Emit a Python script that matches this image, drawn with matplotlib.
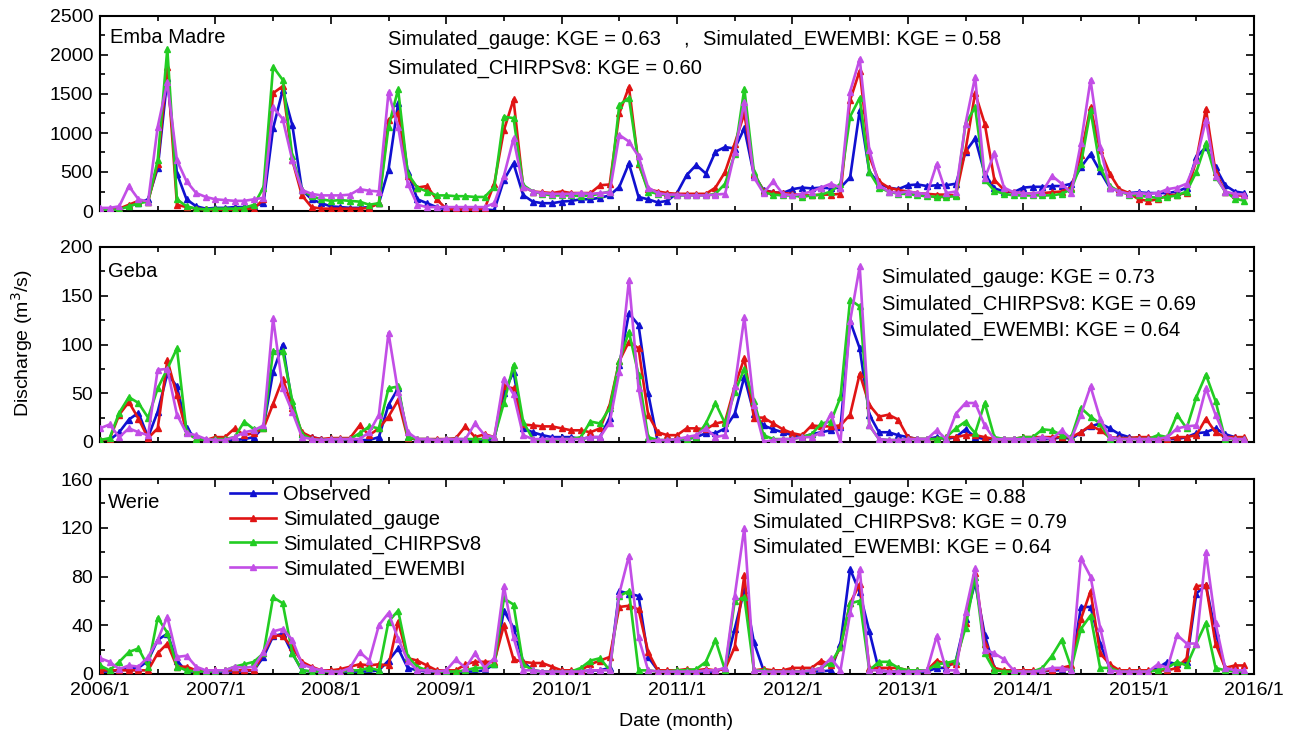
import numpy as np
import matplotlib
matplotlib.use("Agg")
import matplotlib.pyplot as plt
from matplotlib.ticker import MultipleLocator

plt.rcParams['font.family'] = ['Liberation Sans', 'DejaVu Sans']

# ---------------- data ----------------
year_labels = ["2006/1", "2007/1", "2008/1", "2009/1", "2010/1", "2011/1",
               "2012/1", "2013/1", "2014/1", "2015/1", "2016/1"]
series_names = ["Observed", "Simulated_gauge", "Simulated_CHIRPSv8", "Simulated_EWEMBI"]
stations = ["Emba Madre", "Geba", "Werie"]

# Emba Madre (monthly, 2006/1 - 2015/12)
em_obs = [20, 20, 30, 60, 100, 150, 550, 1700, 480, 150, 60, 30,
          40, 40, 50, 50, 60, 100, 1060, 1550, 1100, 270, 150, 100,
          60, 50, 40, 40, 50, 100, 530, 1380, 500, 150, 100, 50,
          20, 20, 20, 20, 20, 10, 400, 610, 205, 120, 100, 100,
          120, 130, 150, 150, 170, 200, 310, 610, 180, 150, 110, 130,
          230, 460, 590, 480, 760, 820, 800, 1060, 460, 270, 240, 230,
          280, 300, 290, 300, 290, 300, 430, 1290, 505, 350, 300, 280,
          330, 340, 320, 330, 330, 350, 760, 930, 480, 290, 250, 240,
          300, 310, 310, 320, 320, 350, 560, 730, 510, 300, 250, 230,
          240, 230, 230, 230, 250, 300, 690, 820, 560, 330, 250, 230]
em_gauge = [20, 20, 30, 80, 130, 120, 600, 1850, 80, 50, 30, 20,
            20, 20, 20, 25, 30, 150, 1510, 1600, 650, 200, 50, 30,
            30, 30, 30, 30, 40, 100, 1170, 1260, 450, 300, 320, 150,
            30, 20, 20, 20, 30, 350, 1035, 1430, 312, 250, 240, 230,
            250, 230, 230, 230, 330, 340, 1250, 1590, 600, 280, 250, 230,
            220, 220, 220, 220, 300, 500, 865, 1250, 475, 260, 240, 230,
            220, 200, 200, 210, 210, 220, 1420, 1800, 700, 380, 300, 270,
            250, 230, 220, 210, 210, 200, 780, 1510, 1120, 400, 270, 240,
            230, 220, 230, 240, 250, 300, 720, 1330, 780, 480, 280, 230,
            150, 130, 150, 200, 210, 230, 650, 1310, 500, 250, 200, 200]
em_chirps = [10, 10, 20, 60, 100, 120, 650, 2080, 150, 60, 30, 20,
             30, 30, 30, 40, 80, 300, 1850, 1680, 700, 270, 190, 150,
             130, 140, 130, 120, 80, 100, 1080, 1560, 480, 300, 250, 200,
             200, 190, 190, 180, 180, 310, 1210, 1190, 334, 250, 220, 200,
             200, 200, 190, 200, 220, 250, 1360, 1450, 620, 250, 220, 200,
             200, 200, 200, 200, 220, 350, 730, 1570, 500, 240, 210, 200,
             200, 180, 200, 210, 250, 350, 1210, 1450, 500, 300, 250, 220,
             220, 200, 190, 180, 180, 190, 1120, 1330, 400, 260, 220, 200,
             200, 200, 200, 200, 220, 280, 600, 1290, 560, 320, 250, 210,
             200, 180, 170, 180, 200, 250, 500, 870, 440, 250, 160, 130]
em_ewembi = [40, 40, 60, 320, 150, 120, 1080, 1650, 650, 380, 230, 180,
             150, 140, 130, 130, 150, 170, 1330, 1180, 650, 270, 220, 200,
             200, 200, 210, 280, 260, 250, 1520, 1080, 350, 80, 50, 50,
             50, 50, 50, 50, 50, 100, 450, 930, 312, 250, 230, 220,
             220, 220, 230, 220, 230, 240, 975, 890, 700, 300, 230, 210,
             210, 200, 200, 200, 210, 220, 750, 1400, 430, 230, 380, 220,
             200, 220, 250, 300, 350, 300, 1530, 1950, 780, 330, 250, 230,
             250, 230, 220, 600, 230, 250, 1120, 1720, 420, 740, 300, 240,
             230, 220, 250, 450, 350, 230, 870, 1680, 820, 300, 250, 220,
             230, 220, 230, 280, 300, 350, 650, 1170, 450, 250, 220, 210]

# Geba
gb_obs = [2, 2, 10, 23, 30, 5, 31, 70, 57, 14, 3, 2,
          2, 2, 2, 3, 5, 15, 72, 100, 38, 8, 5, 3,
          2, 2, 2, 2, 2, 5, 38, 55, 5, 2, 2, 2,
          2, 2, 2, 2, 2, 3, 50, 72, 14, 10, 7, 5,
          5, 5, 3, 5, 5, 25, 79, 132, 120, 50, 0, 0,
          2, 3, 5, 9, 9, 14, 29, 67, 29, 17, 13, 10,
          7, 5, 8, 10, 12, 15, 124, 96, 28, 10, 10, 7,
          5, 3, 3, 5, 3, 5, 13, 5, 3, 3, 3, 3,
          3, 3, 3, 3, 5, 3, 10, 16, 19, 14, 8, 5,
          3, 3, 3, 3, 3, 5, 9, 10, 14, 8, 5, 3]
gb_gauge = [2, 3, 28, 41, 24, 4, 14, 84, 48, 10, 3, 2,
            5, 5, 14, 7, 9, 14, 39, 65, 35, 10, 5, 3,
            4, 4, 4, 17, 7, 14, 26, 43, 4, 3, 3, 3,
            3, 4, 16, 5, 8, 5, 57, 55, 18, 17, 16, 16,
            14, 12, 12, 10, 14, 38, 83, 103, 96, 28, 10, 7,
            7, 14, 14, 13, 19, 21, 57, 86, 25, 25, 19, 13,
            9, 7, 17, 16, 16, 17, 28, 70, 38, 26, 28, 23,
            5, 3, 3, 3, 5, 5, 7, 7, 5, 3, 3, 3,
            5, 5, 5, 5, 5, 5, 10, 17, 12, 5, 4, 4,
            5, 5, 3, 3, 5, 5, 7, 24, 10, 5, 5, 5]
gb_chirps = [2, 4, 30, 46, 40, 25, 55, 75, 96, 10, 3, 2,
             3, 3, 5, 21, 13, 14, 93, 93, 42, 8, 3, 2,
             3, 3, 3, 9, 16, 14, 55, 57, 5, 3, 3, 2,
             3, 3, 3, 3, 3, 5, 40, 79, 21, 3, 2, 2,
             3, 3, 5, 21, 19, 35, 83, 113, 69, 5, 2, 2,
             3, 3, 5, 19, 40, 19, 51, 75, 42, 7, 3, 3,
             3, 5, 8, 19, 21, 46, 146, 139, 17, 3, 2, 2,
             3, 3, 3, 3, 5, 14, 21, 9, 40, 5, 3, 3,
             5, 5, 13, 12, 7, 5, 35, 26, 19, 3, 3, 3,
             3, 3, 7, 5, 28, 14, 46, 69, 42, 3, 3, 3]
gb_ewembi = [14, 18, 5, 14, 10, 7, 74, 75, 28, 9, 7, 3,
             2, 2, 5, 10, 12, 17, 127, 55, 31, 5, 3, 2,
             3, 3, 3, 3, 10, 28, 112, 51, 10, 3, 3, 2,
             3, 3, 3, 19, 7, 5, 65, 49, 7, 3, 3, 3,
             3, 3, 3, 5, 5, 20, 72, 166, 55, 0, 2, 2,
             3, 5, 7, 14, 5, 7, 57, 128, 38, 0, 2, 3,
             3, 5, 5, 10, 29, 0, 124, 180, 17, 3, 2, 2,
             3, 3, 3, 12, 3, 29, 40, 40, 17, 3, 3, 3,
             3, 3, 5, 3, 12, 3, 28, 57, 24, 5, 3, 3,
             3, 3, 3, 5, 14, 16, 17, 55, 28, 5, 3, 3]

# Werie
wr_obs = [2, 2, 3, 5, 5, 11, 28, 33, 11, 2, 2, 2,
          2, 2, 2, 2, 3, 14, 31, 33, 17, 3, 2, 2,
          2, 2, 2, 2, 2, 3, 11, 21, 5, 3, 2, 2,
          2, 2, 2, 2, 3, 8, 52, 38, 10, 3, 2, 2,
          2, 2, 2, 3, 3, 5, 68, 66, 64, 14, 3, 2,
          2, 2, 2, 2, 2, 5, 37, 69, 26, 3, 2, 2,
          2, 2, 2, 2, 3, 25, 86, 67, 35, 3, 2, 2,
          2, 2, 2, 5, 5, 11, 45, 75, 32, 5, 2, 2,
          2, 2, 2, 3, 3, 5, 55, 55, 25, 5, 2, 2,
          2, 2, 5, 10, 8, 10, 66, 73, 34, 5, 2, 2]
wr_gauge = [3, 3, 3, 3, 3, 3, 17, 25, 6, 6, 3, 3,
            3, 3, 3, 3, 3, 17, 32, 31, 22, 10, 6, 3,
            3, 4, 6, 8, 7, 8, 7, 43, 13, 11, 7, 3,
            3, 3, 8, 10, 10, 10, 40, 12, 10, 9, 9, 6,
            3, 3, 3, 8, 11, 14, 55, 56, 53, 18, 3, 3,
            3, 4, 3, 4, 3, 4, 22, 81, 3, 4, 3, 3,
            5, 5, 5, 11, 7, 22, 58, 74, 5, 5, 5, 5,
            3, 3, 3, 11, 8, 8, 42, 83, 25, 5, 3, 3,
            3, 3, 3, 3, 5, 7, 45, 68, 17, 8, 3, 3,
            3, 3, 3, 3, 5, 13, 72, 73, 25, 5, 7, 7]
wr_chirps = [7, 3, 10, 18, 21, 6, 46, 34, 6, 3, 2, 2,
             2, 3, 6, 8, 10, 17, 63, 58, 17, 3, 2, 2,
             2, 2, 3, 3, 5, 3, 43, 52, 14, 6, 3, 2,
             2, 2, 3, 5, 5, 8, 62, 57, 8, 3, 2, 2,
             2, 2, 5, 11, 13, 3, 64, 68, 3, 3, 2, 2,
             3, 3, 4, 10, 28, 3, 60, 63, 3, 3, 2, 2,
             2, 2, 3, 5, 9, 22, 58, 60, 3, 10, 10, 5,
             3, 3, 3, 8, 9, 11, 38, 80, 17, 3, 2, 2,
             2, 2, 5, 15, 28, 5, 37, 48, 5, 5, 2, 2,
             2, 2, 3, 5, 10, 7, 25, 42, 5, 3, 2, 2]
wr_ewembi = [13, 10, 4, 7, 6, 14, 28, 47, 14, 15, 6, 3,
             3, 3, 6, 5, 6, 18, 35, 37, 28, 8, 5, 3,
             2, 2, 5, 18, 11, 40, 50, 29, 11, 3, 3, 2,
             3, 12, 5, 17, 5, 13, 72, 30, 3, 3, 2, 2,
             2, 2, 2, 3, 3, 3, 66, 97, 30, 3, 2, 2,
             2, 2, 2, 3, 3, 5, 64, 120, 3, 2, 2, 2,
             2, 2, 3, 5, 13, 3, 50, 86, 3, 3, 2, 2,
             2, 2, 3, 31, 3, 3, 51, 87, 20, 17, 12, 3,
             2, 2, 3, 5, 5, 3, 95, 80, 38, 3, 2, 2,
             2, 2, 8, 5, 32, 25, 25, 100, 42, 5, 3, 3]

kge_top_line1 = "Simulated_gauge: KGE = 0.63"
kge_top_line1b = "Simulated_EWEMBI: KGE = 0.58"
kge_top_line2 = "Simulated_CHIRPSv8: KGE = 0.60"
kge_mid = ["Simulated_gauge: KGE = 0.73", "Simulated_CHIRPSv8: KGE = 0.69",
           "Simulated_EWEMBI: KGE = 0.64"]
kge_bot = ["Simulated_gauge: KGE = 0.88", "Simulated_CHIRPSv8: KGE = 0.79",
           "Simulated_EWEMBI: KGE = 0.64"]

# ---------------- plotting ----------------
colors = ['#1010d0', '#e01414', '#22cc22', '#c24ee6']
months = np.arange(len(em_obs))

W, H = 1293, 743
fig = plt.figure(figsize=(W / 100, H / 100), dpi=100)

def frac_axes(top_px, bottom_px, left_px=100, right_px=1254):
    return fig.add_axes([left_px / W, 1 - bottom_px / H,
                         (right_px - left_px) / W, (bottom_px - top_px) / H])

ax1 = frac_axes(16, 211)
ax2 = frac_axes(247, 442)
ax3 = frac_axes(479, 674)

panels = [
    (ax1, [em_obs, em_gauge, em_chirps, em_ewembi], 2500, 500, 250),
    (ax2, [gb_obs, gb_gauge, gb_chirps, gb_ewembi], 200, 50, 25),
    (ax3, [wr_obs, wr_gauge, wr_chirps, wr_ewembi], 160, 40, 20),
]

FS_TICK = 14
FS_TXT = 14.5

for k, (ax, data, ymax, major, minor) in enumerate(panels):
    for s, (vals, c, name) in enumerate(zip(data, colors, series_names)):
        ax.plot(months, vals, color=c, lw=1.9, marker='^', ms=4.8,
                mec=c, mfc=c, label=name, zorder=2 + s)
    ax.set_xlim(0, 120)
    ax.set_ylim(0, ymax)
    ax.yaxis.set_major_locator(MultipleLocator(major))
    ax.yaxis.set_minor_locator(MultipleLocator(minor))
    ax.set_xticks(np.arange(0, 121, 12))
    ax.xaxis.set_minor_locator(MultipleLocator(6))
    ax.tick_params(which='both', direction='in', top=True, right=True,
                   labelsize=FS_TICK, width=1.2)
    ax.tick_params(which='major', length=6)
    ax.tick_params(which='minor', length=3.5)
    ax.tick_params(axis='x', pad=6)
    ax.tick_params(axis='y', pad=5)
    for sp in ax.spines.values():
        sp.set_linewidth(1.5)
    if k < 2:
        ax.set_xticklabels([])
    else:
        ax.set_xticklabels(year_labels)

# station names
ax1.text(0.009, 0.892, stations[0], transform=ax1.transAxes, fontsize=FS_TXT, va='center')
ax2.text(0.007, 0.872, stations[1], transform=ax2.transAxes, fontsize=FS_TXT, va='center')
ax3.text(0.007, 0.880, stations[2], transform=ax3.transAxes, fontsize=FS_TXT, va='center')

# KGE annotations
ax1.text((388 - 100) / 1154, (211 - 39) / 195, kge_top_line1, transform=ax1.transAxes,
         fontsize=FS_TXT, va='center')
ax1.text((683 - 100) / 1154, (211 - 39) / 195, ",", transform=ax1.transAxes,
         fontsize=FS_TXT, va='center')
ax1.text((703 - 100) / 1154, (211 - 39) / 195, kge_top_line1b, transform=ax1.transAxes,
         fontsize=FS_TXT, va='center')
ax1.text((388 - 100) / 1154, (211 - 68) / 195, kge_top_line2, transform=ax1.transAxes,
         fontsize=FS_TXT, va='center')
for txt, ypx in zip(kge_mid, [277, 304, 330]):
    ax2.text((882 - 100) / 1154, (442 - ypx) / 195, txt, transform=ax2.transAxes,
             fontsize=FS_TXT, va='center')
for txt, ypx in zip(kge_bot, [497, 522, 547]):
    ax3.text((753 - 100) / 1154, (674 - ypx) / 195, txt, transform=ax3.transAxes,
             fontsize=FS_TXT, va='center')

# legend
ax3.legend(loc='upper left', bbox_to_anchor=((230 - 100) / 1154, (674 - 485) / 195),
           frameon=False, fontsize=FS_TXT, handlelength=2.3, handletextpad=0.35,
           labelspacing=0.28, borderpad=0, borderaxespad=0, numpoints=1)

fig.text(22 / W, 1 - 343 / H, "Discharge (m$^3$/s)", rotation=90, fontsize=FS_TICK,
         ha='center', va='center')
fig.text(676 / W, 1 - 722 / H, "Date (month)", fontsize=FS_TICK, ha='center', va='center')

fig.savefig("out.png", dpi=100)
